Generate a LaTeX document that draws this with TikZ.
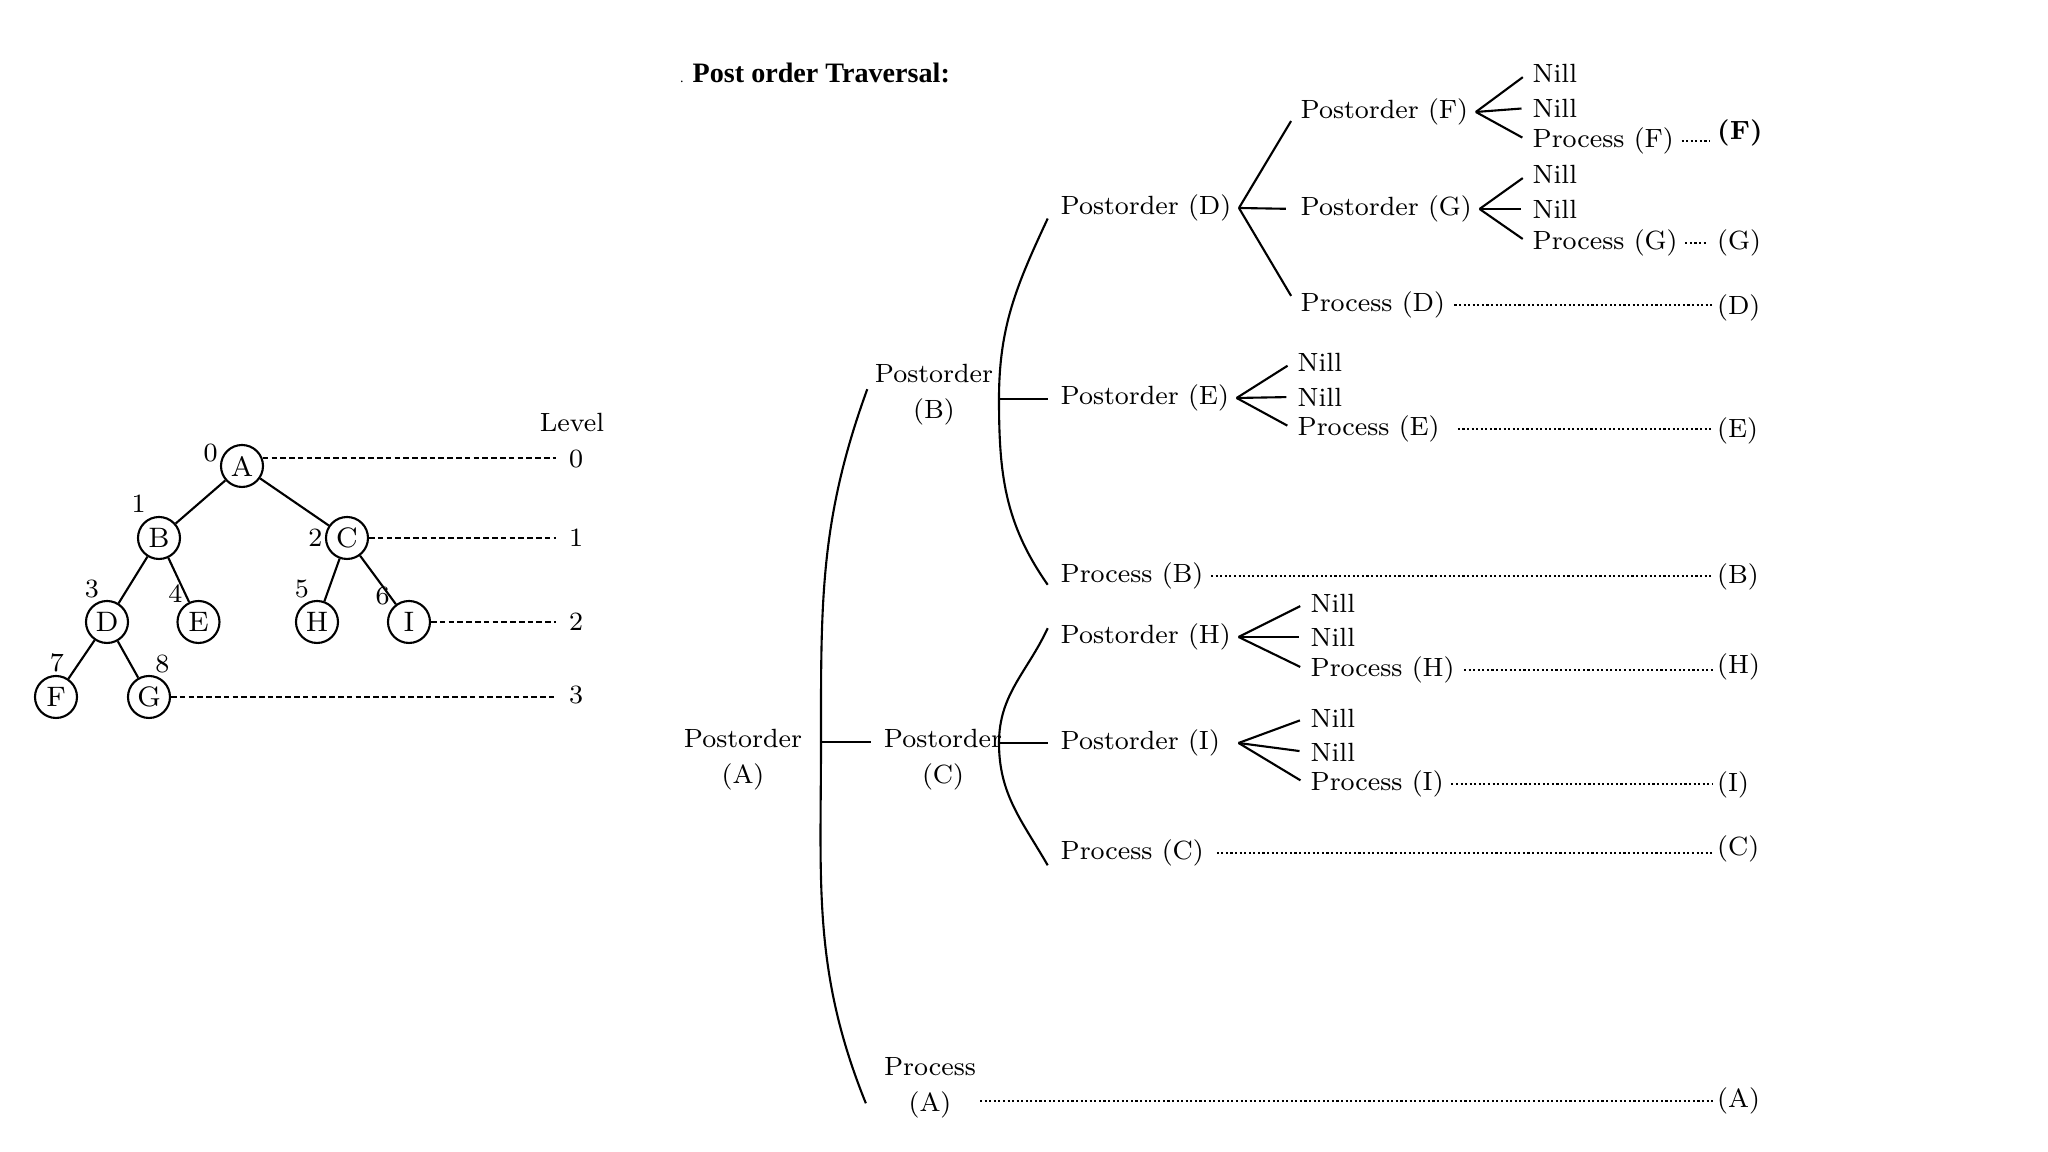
\documentclass[tikz,border=0pt]{standalone}
\usepackage{fontspec}
\newfontfamily\headfont{Liberation Serif}

\begin{document}
\begin{tikzpicture}[
  txt/.style={font=\fontsize{7.5}{10.2}\selectfont,inner sep=1pt},
  vert/.style={draw,circle,line width=0.6pt,minimum size=0.42cm,inner sep=0pt,font=\fontsize{8}{9}\selectfont},
  idx/.style={font=\fontsize{7.5}{9}\selectfont,inner sep=0.5pt},
  edge/.style={line width=0.6pt},
  lvl/.style={line width=0.6pt,dash pattern=on 1.6pt off 0.9pt,shorten >=2.5pt},
  dots/.style={line width=0.8pt,dash pattern=on 0.6pt off 0.7pt}]
\useasboundingbox (0,0) rectangle (20.48,11.52);

% binary tree with levels
\node[vert,label={[idx]176:0}] (A) at (2.42,6.86) {A};
\node[vert,label={[idx,label distance=1pt]115:1}] (B) at (1.59,6.14) {B};
\node[vert,label={[idx]180:2}] (C) at (3.47,6.14) {C};
\node[vert,label={[idx]105:3}] (D) at (1.07,5.30) {D};
\node[vert,label={[idx]128:4}] (E) at (1.985,5.30) {E};
\node[vert,label={[idx]105:5}] (H) at (3.17,5.30) {H};
\node[vert,label={[idx]140:6}] (I) at (4.09,5.30) {I};
\node[vert,label={[idx]88:7}] (F) at (0.56,4.55) {F};
\node[vert,label={[idx]80:8}] (G) at (1.49,4.55) {G};
\draw[edge] (A) -- (B);
\draw[edge] (A) -- (C);
\draw[edge] (B) -- (D);
\draw[edge] (B) -- (E);
\draw[edge] (C) -- (H);
\draw[edge] (C) -- (I);
\draw[edge] (D) -- (F);
\draw[edge] (D) -- (G);

\node[txt] (lvlhd) at (5.72,7.29) {Level};
\node[txt] (l0) at (5.76,6.93) {0};
\node[txt] (l1) at (5.76,6.14) {1};
\node[txt] (l2) at (5.76,5.30) {2};
\node[txt] (l3) at (5.76,4.57) {3};
\draw[lvl] (A.20) -- (A.20 -| l0.west);
\draw[lvl] (C.east) -- (C.east -| l1.west);
\draw[lvl] (I.east) -- (I.east -| l2.west);
\draw[lvl] (G.east) -- (G.east -| l3.west);

% traversal
\node[anchor=west,inner sep=1pt] (ttl) at (6.76,10.79) {\headfont\fontsize{8}{10}\selectfont{\fontsize{4}{4}\selectfont.}\hspace{0.09cm}\bfseries Post order Traversal:};

\node[txt,align=center] (pA) at (7.43,3.92) {Postorder\\(A)};
\node[txt,align=center] (pB) at (9.34,7.575) {Postorder\\(B)};
\node[txt,align=center] (pC) at (9.43,3.92) {Postorder\\(C)};
\node[txt,align=center] (prA) at (9.30,0.645) {Process\\(A)};

\node[txt,anchor=west] (pD) at (10.565,9.44) {Postorder (D)};
\node[txt,anchor=west] (pE) at (10.565,7.54) {Postorder (E)};
\node[txt,anchor=west] (prB) at (10.565,5.76) {Process (B)};
\node[txt,anchor=west] (pH) at (10.565,5.15) {Postorder (H)};
\node[txt,anchor=west] (pI) at (10.565,4.09) {Postorder (I)};
\node[txt,anchor=west] (prC) at (10.565,2.99) {Process (C)};

\coordinate (mA) at (8.21,4.10);
\coordinate (mB) at (9.99,7.53);
\coordinate (mC) at (9.99,4.09);
\draw[edge] ([xshift=-1pt,yshift=1.5pt]pB.west) to[out=250,in=90] (mA) to[out=-90,in=112] ([xshift=-4pt,yshift=-4.5pt]prA.west);
\draw[edge,shorten >=2.5pt] (mA) -- (mA -| pC.west);
\draw[edge] ([xshift=-2.5pt,yshift=-3pt]pD.west) to[out=245,in=90] (mB) to[out=-90,in=125] ([xshift=-2.5pt,yshift=-2.5pt]prB.west);
\draw[edge,shorten >=2.5pt] (mB) -- (mB -| pE.west);
\draw[edge] ([xshift=-2.5pt,yshift=2.5pt]pH.west) to[out=245,in=90] (mC) to[out=-90,in=120] ([xshift=-2.5pt,yshift=-3.5pt]prC.west);
\draw[edge,shorten >=2.5pt] (mC) -- (mC -| pI.west);

% level 3 fans
\node[txt,anchor=west] (pF) at (12.965,10.40) {Postorder (F)};
\node[txt,anchor=west] (pG) at (12.965,9.43) {Postorder (G)};
\node[txt,anchor=west] (prD) at (12.965,8.47) {Process (D)};
\node[txt,anchor=west] (nE1) at (12.935,7.90) {Nill};
\node[txt,anchor=west] (nE2) at (12.935,7.55) {Nill};
\node[txt,anchor=west] (prE) at (12.935,7.23) {Process (E)};
\node[txt,anchor=west] (nH1) at (13.065,5.49) {Nill};
\node[txt,anchor=west] (nH2) at (13.065,5.15) {Nill};
\node[txt,anchor=west] (prH) at (13.065,4.82) {Process (H)};
\node[txt,anchor=west] (nI1) at (13.065,4.34) {Nill};
\node[txt,anchor=west] (nI2) at (13.065,4.00) {Nill};
\node[txt,anchor=west] (prI) at (13.065,3.68) {Process (I)};

\coordinate (fD) at ([xshift=1pt]pD.east);
\coordinate (fE) at ([xshift=1pt]pE.east);
\coordinate (fH) at ([xshift=1pt]pH.east);
\coordinate (fI) at (fH |- pI.east);
\draw[edge,shorten >=3pt] (fD) -- (pF.west);
\draw[edge,shorten >=3pt] (fD) -- (pG.west);
\draw[edge,shorten >=3pt] (fD) -- (prD.west);
\draw[edge,shorten >=2pt] (fE) -- (nE1.west);
\draw[edge,shorten >=2pt] (fE) -- (nE2.west);
\draw[edge,shorten >=2pt] (fE) -- (prE.west);
\draw[edge,shorten >=2pt] (fH) -- (nH1.west);
\draw[edge,shorten >=2pt] (fH) -- (nH2.west);
\draw[edge,shorten >=2pt] (fH) -- (prH.west);
\draw[edge,shorten >=2pt] (fI) -- (nI1.west);
\draw[edge,shorten >=2pt] (fI) -- (nI2.west);
\draw[edge,shorten >=2pt] (fI) -- (prI.west);

% level 4 fans
\node[txt,anchor=west] (nF1) at (15.285,10.79) {Nill};
\node[txt,anchor=west] (nF2) at (15.285,10.44) {Nill};
\node[txt,anchor=west] (prF) at (15.285,10.11) {Process (F)};
\node[txt,anchor=west] (nG1) at (15.285,9.78) {Nill};
\node[txt,anchor=west] (nG2) at (15.285,9.43) {Nill};
\node[txt,anchor=west] (prG) at (15.285,9.09) {Process (G)};
\coordinate (fF) at ([xshift=1pt]pF.east);
\coordinate (fG) at ([xshift=1pt]pG.east);
\draw[edge,shorten >=2pt] (fF) -- (nF1.west);
\draw[edge,shorten >=2pt] (fF) -- (nF2.west);
\draw[edge,shorten >=2pt] (fF) -- (prF.west);
\draw[edge,shorten >=2pt] (fG) -- (nG1.west);
\draw[edge,shorten >=2pt] (fG) -- (nG2.west);
\draw[edge,shorten >=2pt] (fG) -- (prG.west);

% visiting order
\node[txt,anchor=west] (rF) at (17.13,10.19) {\bfseries(F)};
\node[txt,anchor=west] (rG) at (17.13,9.09) {(G)};
\node[txt,anchor=west] (rD) at (17.13,8.44) {(D)};
\node[txt,anchor=west] (rE) at (17.13,7.21) {(E)};
\node[txt,anchor=west] (rB) at (17.13,5.75) {(B)};
\node[txt,anchor=west] (rH) at (17.13,4.85) {(H)};
\node[txt,anchor=west] (rI) at (17.13,3.67) {(I)};
\node[txt,anchor=west] (rC) at (17.13,3.03) {(C)};
\node[txt,anchor=west] (rA) at (17.13,0.51) {(A)};
\draw[dots,shorten <=1pt,shorten >=1pt] (prF.east) -- (prF.east -| rF.west);
\draw[dots,shorten <=1pt,shorten >=2pt] (prG.east) -- (prG.east -| rG.west);
\draw[dots,shorten <=1.5pt] (prD.east) -- (prD.east -| rD.west);
\draw[dots,shorten <=4pt] (prE.east) -- (prE.east -| rE.west);
\draw[dots,shorten <=1pt] (prB.east) -- (prB.east -| rB.west);
\draw[dots,shorten <=1.5pt] (prH.east) -- (prH.east -| rH.west);
\draw[dots,shorten <=1pt] (prI.east) -- (prI.east -| rI.west);
\draw[dots,shorten <=2.5pt] (prC.east) -- (prC.east -| rC.west);
\draw[dots] (prA.east |- rA.west) -- (rA.west);
\end{tikzpicture}
\end{document}
